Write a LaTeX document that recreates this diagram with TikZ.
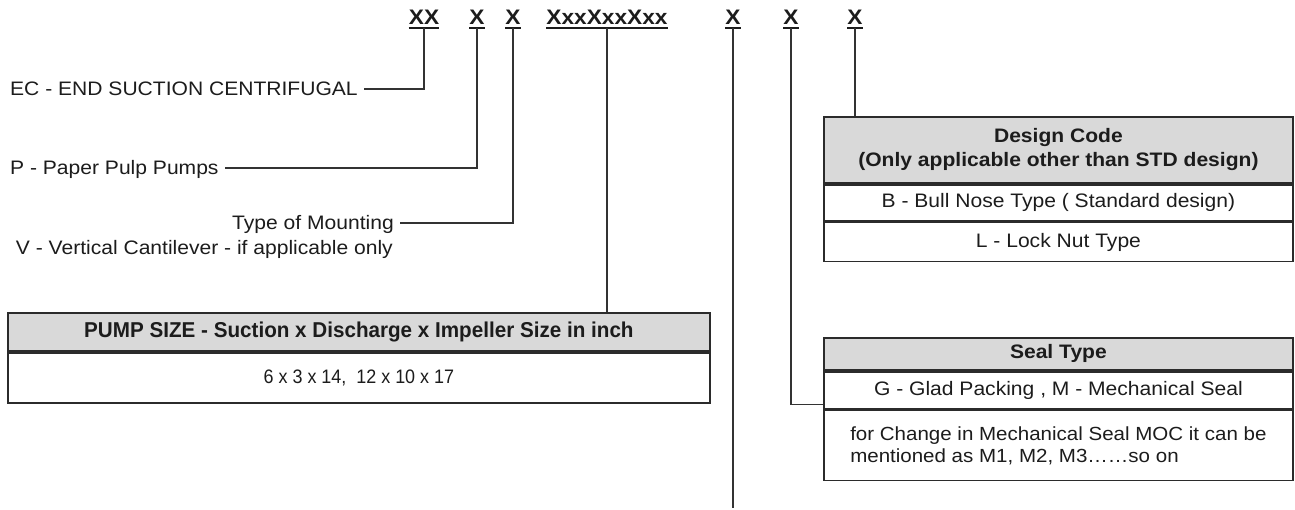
\documentclass[tikz,border=0pt]{standalone}
\usepackage{fontspec}
\setmainfont{Liberation Sans}[FakeStretch=1.08]
\newfontfamily\condfont{Liberation Sans}[FakeStretch=0.92]
\newfontfamily\condbold{Liberation Sans Bold}[FakeStretch=0.96]
\definecolor{txt}{HTML}{1C1C1C}
\definecolor{linec}{HTML}{333333}
\definecolor{boxc}{HTML}{2B2B2B}
\definecolor{hdrfill}{HTML}{D9D9D9}
\begin{document}
\begin{tikzpicture}[x=1pt,y=-1pt,
  code/.style={font=\bfseries\fontsize{21}{24}\selectfont, text=txt, anchor=south, inner xsep=0pt, inner ysep=3pt, text depth=0pt, text height=15pt},
  lbl/.style={font=\fontsize{19.5}{25}\selectfont, text=txt, inner xsep=6pt, inner ysep=0pt, text height=14pt, text depth=0pt},
  conn/.style={draw=linec, line width=1.4pt},
  uline/.style={draw=txt, line width=2pt},
  hdr/.style={draw=boxc, line width=1.8pt, fill=hdrfill, text=txt, font=\bfseries\fontsize{19.5}{24}\selectfont, anchor=north west, inner sep=0pt, align=center},
  cell/.style={draw=boxc, line width=1.8pt, fill=white, text=txt, font=\fontsize{19.5}{22}\selectfont, anchor=north west, inner sep=0pt, align=center}]
\useasboundingbox (0,0) rectangle (1295,510);
\fill[white] (0,0) rectangle (1295,510);

% code letters
\node[code] (xx) at (424,28) {XX};
\node[code] (x1) at (477,28) {X};
\node[code] (x2) at (513,28) {X};
\node[code] (xs) at (607,28) {XxxXxxXxx};
\node[code] (x5) at (733,28) {X};
\node[code] (x6) at (791,28) {X};
\node[code] (x7) at (855,28) {X};
\foreach \n in {xx,x1,x2,xs,x5,x6,x7}
  \draw[uline] (\n.south west) -- (\n.south east);

% left labels
\node[lbl, anchor=west] (ec) at (4,89) {EC - END SUCTION CENTRIFUGAL};
\node[lbl, anchor=west] (pp) at (4,168) {P - Paper Pulp Pumps};
\node[lbl, anchor=east] (tm) at (400,223) {Type of Mounting};
\node[lbl, anchor=base east, inner xsep=0pt] (vv) at (393,255) {V - Vertical Cantilever - if applicable only};

% pump size box
\node[hdr, minimum width=702pt, minimum height=38pt, font=\condbold\fontsize{21.5}{24}\selectfont] (pumph) at (7,312) {PUMP SIZE - Suction x Discharge x Impeller Size in inch};
\node[cell, minimum width=702pt, minimum height=50pt, font=\condfont\fontsize{19.5}{22}\selectfont] (pumpb) at (pumph.south west) {6 x 3 x 14,\ \ 12 x 10 x 17};

% design code box
\node[hdr, minimum width=469pt, minimum height=66pt] (desh) at (823,116) {Design Code\\(Only applicable other than STD design)};
\node[cell, minimum width=469pt, minimum height=36pt] (desb) at (desh.south west) {B - Bull Nose Type ( Standard design)};
\node[cell, minimum width=469pt, minimum height=39pt] (desl) at (desb.south west) {L - Lock Nut Type};

% seal type box
\node[hdr, minimum width=469pt, minimum height=32pt] (sealh) at (823,337) {Seal Type};
\node[cell, minimum width=469pt, minimum height=37pt] (sealg) at (sealh.south west) {G - Glad Packing , M - Mechanical Seal};
\node[cell, minimum width=469pt, minimum height=70pt, align=left, font=\fontsize{19}{22}\selectfont] (sealm) at (sealg.south west) {for Change in Mechanical Seal MOC it can be\\mentioned as M1, M2, M3……so on};

% connectors
\coordinate (endx5) at (733,508);
\draw[conn] (xx.south) |- (ec.east);
\draw[conn] (x1.south) |- (pp.east);
\draw[conn] (x2.south) |- (tm.east);
\draw[conn] (xs.south) -- (xs.south |- pumph.north);
\draw[conn] (x5.south) -- (endx5);
\draw[conn] (x6.south) |- ([yshift=5pt]sealg.south west);
\draw[conn] (x7.south) -- (x7.south |- desh.north);
\end{tikzpicture}
\end{document}
